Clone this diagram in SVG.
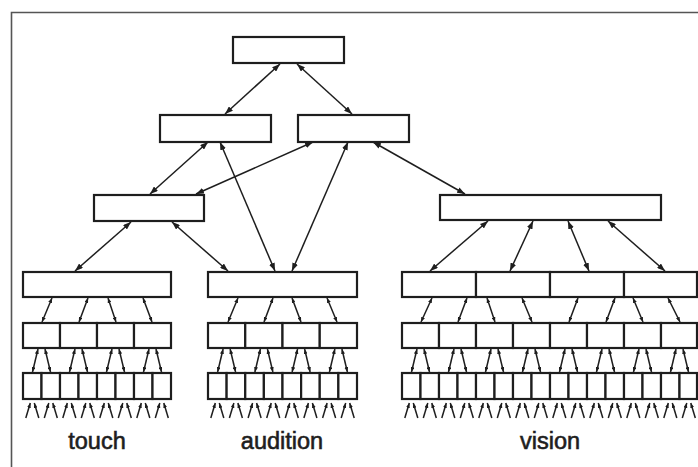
<svg xmlns="http://www.w3.org/2000/svg" width="698" height="467" viewBox="0 0 698 467">
<style>
.n{fill:#fff;stroke:#1e1e1e;stroke-width:2.2}
.c{stroke:#1e1e1e;stroke-width:1.5;fill:none}
.big{marker-start:url(#ah);marker-end:url(#ah)}
.sm{marker-start:url(#sh);marker-end:url(#sh)}
.in{marker-end:url(#sh)}
.lbl{font-family:"Liberation Sans",Arial,sans-serif;font-size:23.5px;fill:#1e1e1e;stroke:#1e1e1e;stroke-width:0.6;text-anchor:middle}
</style>
<defs>
<marker id="ah" markerUnits="userSpaceOnUse" markerWidth="8" markerHeight="6" refX="8" refY="3" orient="auto-start-reverse"><path d="M0,0 L8,3 L0,6 z" fill="#1e1e1e"/></marker>
<marker id="sh" markerUnits="userSpaceOnUse" markerWidth="5" markerHeight="4" refX="5" refY="2" orient="auto-start-reverse"><path d="M0,0 L5,2 L0,4 z" fill="#1e1e1e"/></marker>
</defs>
<rect x="0" y="0" width="698" height="467" fill="#fff"/>
<g id="frame" stroke="#555" stroke-width="1.6" fill="none"><path d="M11.5,467 V12.5 H698"/></g>

<g id="connectors">
<line class="c big" x1="280" y1="64" x2="225" y2="114"/>
<line class="c big" x1="297" y1="64" x2="352" y2="114"/>
<line class="c big" x1="208" y1="142" x2="150" y2="194"/>
<line class="c big" x1="220" y1="142" x2="275" y2="271"/>
<line class="c big" x1="313" y1="142" x2="196" y2="194"/>
<line class="c big" x1="348" y1="142" x2="292" y2="271"/>
<line class="c big" x1="373" y1="142" x2="465" y2="194"/>
<line class="c big" x1="131" y1="222" x2="75" y2="271"/>
<line class="c big" x1="172" y1="222" x2="228" y2="271"/>
<line class="c big" x1="488" y1="221" x2="430" y2="271"/>
<line class="c big" x1="533" y1="221" x2="510" y2="271"/>
<line class="c big" x1="568" y1="221" x2="589" y2="271"/>
<line class="c big" x1="608" y1="221" x2="665" y2="271"/>

<line class="c sm" x1="52" y1="298" x2="42" y2="322"/>
<line class="c sm" x1="88" y1="298" x2="79" y2="322"/>
<line class="c sm" x1="108" y1="298" x2="116" y2="322"/>
<line class="c sm" x1="143" y1="298" x2="152" y2="322"/>
<line class="c sm" x1="238" y1="298" x2="228" y2="322"/>
<line class="c sm" x1="273" y1="298" x2="264" y2="322"/>
<line class="c sm" x1="292" y1="298" x2="301" y2="322"/>
<line class="c sm" x1="327" y1="298" x2="337" y2="322"/>
<line class="c sm" x1="432" y1="298" x2="421" y2="322"/>
<line class="c sm" x1="467" y1="298" x2="458" y2="322"/>
<line class="c sm" x1="487" y1="298" x2="495" y2="322"/>
<line class="c sm" x1="522" y1="298" x2="532" y2="322"/>
<line class="c sm" x1="578" y1="298" x2="569" y2="322"/>
<line class="c sm" x1="615" y1="298" x2="606" y2="322"/>
<line class="c sm" x1="633" y1="298" x2="643" y2="322"/>
<line class="c sm" x1="668" y1="298" x2="680" y2="322"/>

<line class="c sm" x1="38" y1="349" x2="32.5" y2="372"/><line class="c sm" x1="45" y1="349" x2="50.5" y2="372"/>
<line class="c sm" x1="75" y1="349" x2="69.5" y2="372"/><line class="c sm" x1="82" y1="349" x2="87.5" y2="372"/>
<line class="c sm" x1="112" y1="349" x2="106.5" y2="372"/><line class="c sm" x1="119" y1="349" x2="124.5" y2="372"/>
<line class="c sm" x1="149" y1="349" x2="143.5" y2="372"/><line class="c sm" x1="156" y1="349" x2="161.5" y2="372"/>
<line class="c sm" x1="223.1" y1="349" x2="217.6" y2="372"/><line class="c sm" x1="230.1" y1="349" x2="235.6" y2="372"/>
<line class="c sm" x1="260.4" y1="349" x2="254.9" y2="372"/><line class="c sm" x1="267.4" y1="349" x2="272.9" y2="372"/>
<line class="c sm" x1="297.6" y1="349" x2="292.1" y2="372"/><line class="c sm" x1="304.6" y1="349" x2="310.1" y2="372"/>
<line class="c sm" x1="334.9" y1="349" x2="329.4" y2="372"/><line class="c sm" x1="341.9" y1="349" x2="347.4" y2="372"/>
<line class="c sm" x1="417" y1="349" x2="411.5" y2="372"/><line class="c sm" x1="424" y1="349" x2="429.5" y2="372"/>
<line class="c sm" x1="454" y1="349" x2="448.5" y2="372"/><line class="c sm" x1="461" y1="349" x2="466.5" y2="372"/>
<line class="c sm" x1="491" y1="349" x2="485.5" y2="372"/><line class="c sm" x1="498" y1="349" x2="503.5" y2="372"/>
<line class="c sm" x1="528" y1="349" x2="522.5" y2="372"/><line class="c sm" x1="535" y1="349" x2="540.5" y2="372"/>
<line class="c sm" x1="565" y1="349" x2="559.5" y2="372"/><line class="c sm" x1="572" y1="349" x2="577.5" y2="372"/>
<line class="c sm" x1="602" y1="349" x2="596.5" y2="372"/><line class="c sm" x1="609" y1="349" x2="614.5" y2="372"/>
<line class="c sm" x1="639" y1="349" x2="633.5" y2="372"/><line class="c sm" x1="646" y1="349" x2="651.5" y2="372"/>
<line class="c sm" x1="676" y1="349" x2="670.5" y2="372"/><line class="c sm" x1="683" y1="349" x2="688.5" y2="372"/>

<line class="c in" x1="25.8" y1="418" x2="30.3" y2="403"/><line class="c in" x1="38.8" y1="418" x2="34.3" y2="403"/>
<line class="c in" x1="44.3" y1="418" x2="48.8" y2="403"/><line class="c in" x1="57.3" y1="418" x2="52.8" y2="403"/>
<line class="c in" x1="62.8" y1="418" x2="67.3" y2="403"/><line class="c in" x1="75.8" y1="418" x2="71.3" y2="403"/>
<line class="c in" x1="81.3" y1="418" x2="85.8" y2="403"/><line class="c in" x1="94.3" y1="418" x2="89.8" y2="403"/>
<line class="c in" x1="99.8" y1="418" x2="104.3" y2="403"/><line class="c in" x1="112.8" y1="418" x2="108.3" y2="403"/>
<line class="c in" x1="118.3" y1="418" x2="122.8" y2="403"/><line class="c in" x1="131.3" y1="418" x2="126.8" y2="403"/>
<line class="c in" x1="136.8" y1="418" x2="141.3" y2="403"/><line class="c in" x1="149.8" y1="418" x2="145.3" y2="403"/>
<line class="c in" x1="155.3" y1="418" x2="159.8" y2="403"/><line class="c in" x1="168.3" y1="418" x2="163.8" y2="403"/>

<line class="c in" x1="210.8" y1="418" x2="215.3" y2="403"/><line class="c in" x1="223.8" y1="418" x2="219.3" y2="403"/>
<line class="c in" x1="229.4" y1="418" x2="233.9" y2="403"/><line class="c in" x1="242.4" y1="418" x2="237.9" y2="403"/>
<line class="c in" x1="248.1" y1="418" x2="252.6" y2="403"/><line class="c in" x1="261.1" y1="418" x2="256.6" y2="403"/>
<line class="c in" x1="266.7" y1="418" x2="271.2" y2="403"/><line class="c in" x1="279.7" y1="418" x2="275.2" y2="403"/>
<line class="c in" x1="285.3" y1="418" x2="289.8" y2="403"/><line class="c in" x1="298.3" y1="418" x2="293.8" y2="403"/>
<line class="c in" x1="303.9" y1="418" x2="308.4" y2="403"/><line class="c in" x1="316.9" y1="418" x2="312.4" y2="403"/>
<line class="c in" x1="322.6" y1="418" x2="327.1" y2="403"/><line class="c in" x1="335.6" y1="418" x2="331.1" y2="403"/>
<line class="c in" x1="341.2" y1="418" x2="345.7" y2="403"/><line class="c in" x1="354.2" y1="418" x2="349.7" y2="403"/>

<line class="c in" x1="404.8" y1="418" x2="409.3" y2="403"/><line class="c in" x1="417.8" y1="418" x2="413.3" y2="403"/>
<line class="c in" x1="423.3" y1="418" x2="427.8" y2="403"/><line class="c in" x1="436.3" y1="418" x2="431.8" y2="403"/>
<line class="c in" x1="441.8" y1="418" x2="446.3" y2="403"/><line class="c in" x1="454.8" y1="418" x2="450.3" y2="403"/>
<line class="c in" x1="460.3" y1="418" x2="464.8" y2="403"/><line class="c in" x1="473.3" y1="418" x2="468.8" y2="403"/>
<line class="c in" x1="478.8" y1="418" x2="483.3" y2="403"/><line class="c in" x1="491.8" y1="418" x2="487.3" y2="403"/>
<line class="c in" x1="497.3" y1="418" x2="501.8" y2="403"/><line class="c in" x1="510.3" y1="418" x2="505.8" y2="403"/>
<line class="c in" x1="515.8" y1="418" x2="520.3" y2="403"/><line class="c in" x1="528.8" y1="418" x2="524.3" y2="403"/>
<line class="c in" x1="534.3" y1="418" x2="538.8" y2="403"/><line class="c in" x1="547.3" y1="418" x2="542.8" y2="403"/>
<line class="c in" x1="552.8" y1="418" x2="557.3" y2="403"/><line class="c in" x1="565.8" y1="418" x2="561.3" y2="403"/>
<line class="c in" x1="571.3" y1="418" x2="575.8" y2="403"/><line class="c in" x1="584.3" y1="418" x2="579.8" y2="403"/>
<line class="c in" x1="589.8" y1="418" x2="594.3" y2="403"/><line class="c in" x1="602.8" y1="418" x2="598.3" y2="403"/>
<line class="c in" x1="608.3" y1="418" x2="612.8" y2="403"/><line class="c in" x1="621.3" y1="418" x2="616.8" y2="403"/>
<line class="c in" x1="626.8" y1="418" x2="631.3" y2="403"/><line class="c in" x1="639.8" y1="418" x2="635.3" y2="403"/>
<line class="c in" x1="645.3" y1="418" x2="649.8" y2="403"/><line class="c in" x1="658.3" y1="418" x2="653.8" y2="403"/>
<line class="c in" x1="663.8" y1="418" x2="668.3" y2="403"/><line class="c in" x1="676.8" y1="418" x2="672.3" y2="403"/>
<line class="c in" x1="682.3" y1="418" x2="686.8" y2="403"/><line class="c in" x1="695.3" y1="418" x2="690.8" y2="403"/>
</g>

<g id="top"><rect class="n" x="233" y="37" width="111" height="26"/></g>
<g id="l2-left"><rect class="n" x="160" y="115" width="111" height="27"/></g>
<g id="l2-right"><rect class="n" x="298" y="115" width="111" height="27"/></g>
<g id="l3-touch"><rect class="n" x="94" y="195" width="110" height="26"/></g>
<g id="l3-vision"><rect class="n" x="440" y="195" width="221" height="25"/></g>

<g id="touch-l4"><rect class="n" x="23" y="272" width="148" height="25"/></g>
<g id="audition-l4"><rect class="n" x="208" y="272" width="149" height="25"/></g>
<g id="vision-l4-1"><rect class="n" x="402" y="272" width="74" height="25"/></g>
<g id="vision-l4-2"><rect class="n" x="476" y="272" width="74" height="25"/></g>
<g id="vision-l4-3"><rect class="n" x="550" y="272" width="74" height="25"/></g>
<g id="vision-l4-4"><rect class="n" x="624" y="272" width="73" height="25"/></g>

<g id="touch-l5-1"><rect class="n" x="23" y="323" width="37" height="25"/></g>
<g id="touch-l5-2"><rect class="n" x="60" y="323" width="37" height="25"/></g>
<g id="touch-l5-3"><rect class="n" x="97" y="323" width="37" height="25"/></g>
<g id="touch-l5-4"><rect class="n" x="134" y="323" width="37" height="25"/></g>
<g id="audition-l5-1"><rect class="n" x="208" y="323" width="37.25" height="25"/></g>
<g id="audition-l5-2"><rect class="n" x="245.25" y="323" width="37.25" height="25"/></g>
<g id="audition-l5-3"><rect class="n" x="282.5" y="323" width="37.25" height="25"/></g>
<g id="audition-l5-4"><rect class="n" x="319.75" y="323" width="37.25" height="25"/></g>
<g id="vision-l5-1"><rect class="n" x="402" y="323" width="37" height="25"/></g>
<g id="vision-l5-2"><rect class="n" x="439" y="323" width="37" height="25"/></g>
<g id="vision-l5-3"><rect class="n" x="476" y="323" width="37" height="25"/></g>
<g id="vision-l5-4"><rect class="n" x="513" y="323" width="37" height="25"/></g>
<g id="vision-l5-5"><rect class="n" x="550" y="323" width="37" height="25"/></g>
<g id="vision-l5-6"><rect class="n" x="587" y="323" width="37" height="25"/></g>
<g id="vision-l5-7"><rect class="n" x="624" y="323" width="37" height="25"/></g>
<g id="vision-l5-8"><rect class="n" x="661" y="323" width="36" height="25"/></g>

<g id="touch-l6-1"><rect class="n" x="23" y="373" width="18.5" height="26"/></g>
<g id="touch-l6-2"><rect class="n" x="41.5" y="373" width="18.5" height="26"/></g>
<g id="touch-l6-3"><rect class="n" x="60" y="373" width="18.5" height="26"/></g>
<g id="touch-l6-4"><rect class="n" x="78.5" y="373" width="18.5" height="26"/></g>
<g id="touch-l6-5"><rect class="n" x="97" y="373" width="18.5" height="26"/></g>
<g id="touch-l6-6"><rect class="n" x="115.5" y="373" width="18.5" height="26"/></g>
<g id="touch-l6-7"><rect class="n" x="134" y="373" width="18.5" height="26"/></g>
<g id="touch-l6-8"><rect class="n" x="152.5" y="373" width="18.5" height="26"/></g>
<g id="audition-l6-1"><rect class="n" x="208" y="373" width="18.625" height="26"/></g>
<g id="audition-l6-2"><rect class="n" x="226.625" y="373" width="18.625" height="26"/></g>
<g id="audition-l6-3"><rect class="n" x="245.25" y="373" width="18.625" height="26"/></g>
<g id="audition-l6-4"><rect class="n" x="263.875" y="373" width="18.625" height="26"/></g>
<g id="audition-l6-5"><rect class="n" x="282.5" y="373" width="18.625" height="26"/></g>
<g id="audition-l6-6"><rect class="n" x="301.125" y="373" width="18.625" height="26"/></g>
<g id="audition-l6-7"><rect class="n" x="319.75" y="373" width="18.625" height="26"/></g>
<g id="audition-l6-8"><rect class="n" x="338.375" y="373" width="18.625" height="26"/></g>
<g id="vision-l6-1"><rect class="n" x="402" y="373" width="18.5" height="26"/></g>
<g id="vision-l6-2"><rect class="n" x="420.5" y="373" width="18.5" height="26"/></g>
<g id="vision-l6-3"><rect class="n" x="439" y="373" width="18.5" height="26"/></g>
<g id="vision-l6-4"><rect class="n" x="457.5" y="373" width="18.5" height="26"/></g>
<g id="vision-l6-5"><rect class="n" x="476" y="373" width="18.5" height="26"/></g>
<g id="vision-l6-6"><rect class="n" x="494.5" y="373" width="18.5" height="26"/></g>
<g id="vision-l6-7"><rect class="n" x="513" y="373" width="18.5" height="26"/></g>
<g id="vision-l6-8"><rect class="n" x="531.5" y="373" width="18.5" height="26"/></g>
<g id="vision-l6-9"><rect class="n" x="550" y="373" width="18.5" height="26"/></g>
<g id="vision-l6-10"><rect class="n" x="568.5" y="373" width="18.5" height="26"/></g>
<g id="vision-l6-11"><rect class="n" x="587" y="373" width="18.5" height="26"/></g>
<g id="vision-l6-12"><rect class="n" x="605.5" y="373" width="18.5" height="26"/></g>
<g id="vision-l6-13"><rect class="n" x="624" y="373" width="18.5" height="26"/></g>
<g id="vision-l6-14"><rect class="n" x="642.5" y="373" width="18.5" height="26"/></g>
<g id="vision-l6-15"><rect class="n" x="661" y="373" width="18.5" height="26"/></g>
<g id="vision-l6-16"><rect class="n" x="679.5" y="373" width="17.5" height="26"/></g>

<g id="labels">
<text class="lbl" x="97" y="449">touch</text>
<text class="lbl" x="282" y="449">audition</text>
<text class="lbl" x="550" y="449">vision</text>
</g>
</svg>
